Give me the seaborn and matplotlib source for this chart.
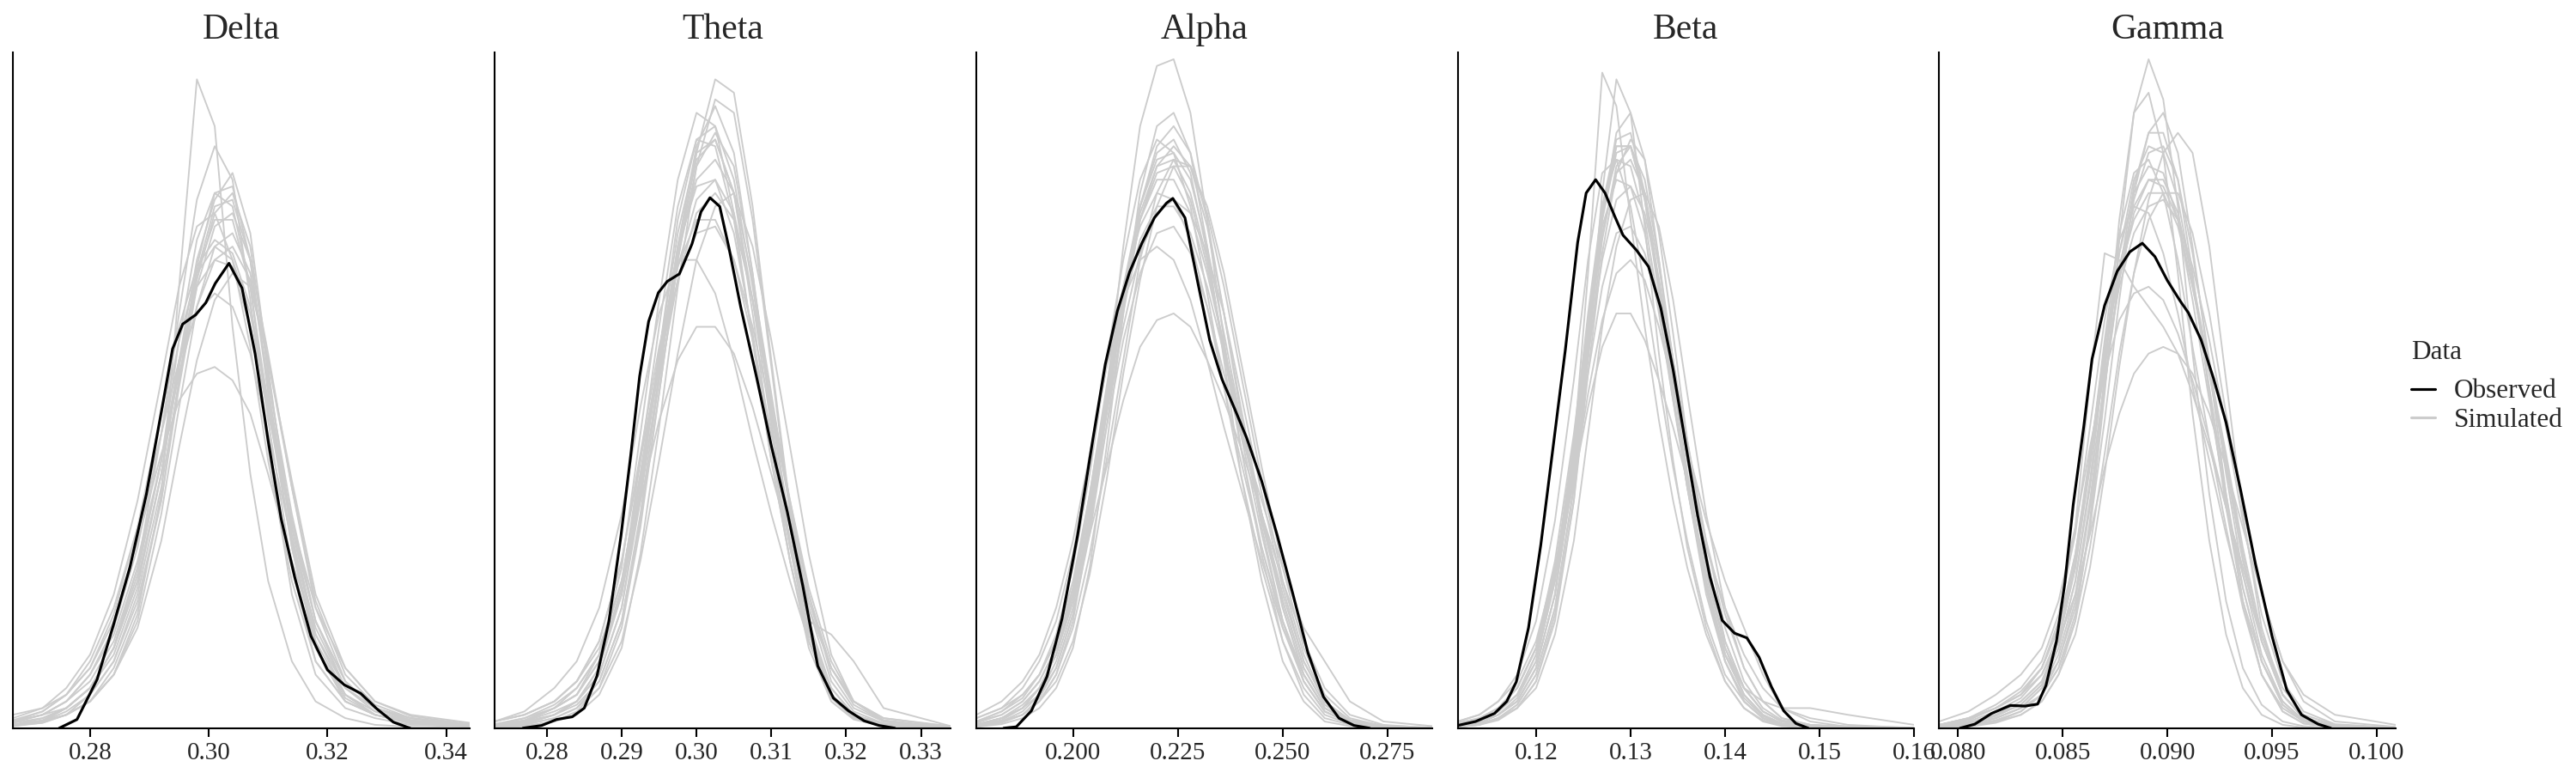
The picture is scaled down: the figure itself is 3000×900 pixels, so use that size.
import numpy as np
import pandas as pd
import matplotlib
matplotlib.use("Agg")
import matplotlib.pyplot as plt
import seaborn as sns
from matplotlib.lines import Line2D

#-- posterior predictive density overlay, one panel per band --#

bands = ["Delta", "Theta", "Alpha", "Beta", "Gamma"]

# Delta
delta_obs_x = [0.2748, 0.2778, 0.2812, 0.2839, 0.2867, 0.2895, 0.2923, 0.2939, 0.2956, 0.2978,
               0.2995, 0.3011, 0.3034, 0.3056, 0.3078, 0.3100, 0.3122, 0.3145, 0.3172, 0.3200,
               0.3228, 0.3256, 0.3283, 0.3311, 0.3339]
delta_obs_y = [0, 1.3, 7.3, 15.3, 24, 35, 48.7, 56.7, 60.4, 61.8,
               63.6, 66.5, 69.5, 65.8, 56, 43, 31.3, 22.5, 13.8, 8.7,
               6.5, 5.2, 2.9, 0.9, 0]
delta_sim_x = [0.267, 0.272, 0.276, 0.280, 0.284, 0.288, 0.292, 0.295, 0.298, 0.301,
               0.304, 0.307, 0.310, 0.314, 0.318, 0.323, 0.328, 0.334, 0.344]
delta_sims = [
    [0.5, 1, 2, 4, 8, 17, 35, 66, 97, 90, 60, 38, 22, 10, 4, 1.5, 0.5, 0.2, 0],
    [0.5, 1, 3, 6, 12, 24, 44, 62, 79, 87, 82, 64, 42, 20, 8, 3, 1.5, 0.5, 0.2],
    [1, 2, 3, 6, 11, 21, 38, 55, 70, 79, 83, 74, 54, 28, 12, 4, 2, 1, 0.5],
    [1.5, 3, 6, 11, 20, 34, 52, 66, 75, 77, 70, 57, 40, 22, 10, 4, 2, 1, 0.3],
    [2, 3, 5, 9, 16, 28, 41, 49, 53, 54, 52, 47, 38, 25, 14, 6, 3, 1.5, 0.5],
    [0.5, 1, 2, 4, 8, 16, 32, 48, 63, 72, 74, 68, 52, 32, 16, 6, 3, 1, 0.5],
    [1, 2, 4, 7, 13, 24, 40, 55, 66, 70, 69, 60, 47, 31, 18, 9, 4, 2, 0.8],
    [1, 2.5, 5, 10, 18, 30, 44, 55, 62, 65, 63, 56, 44, 28, 15, 6, 2.5, 1, 0.3],
    [0.5, 1.5, 3, 6, 12, 23, 40, 58, 73, 80, 78, 66, 46, 24, 10, 4, 2, 0.8, 0.3],
    [0.3, 0.8, 2, 4, 8, 15, 28, 42, 55, 64, 68, 66, 55, 36, 18, 7, 3, 1.5, 0.5],
    [0.8, 1.5, 3, 6, 12, 22, 38, 54, 68, 76, 76, 66, 48, 27, 12, 5, 2, 0.8, 0.3],
    [0.3, 1, 2.5, 5, 10, 20, 36, 52, 67, 77, 80, 72, 53, 30, 14, 5, 2, 1, 0.3],
    [1, 2, 4, 8, 15, 27, 44, 58, 68, 72, 70, 62, 48, 30, 16, 7, 3, 1.2, 0.4],
    [0.5, 1, 2, 5, 10, 19, 34, 51, 66, 75, 77, 70, 56, 36, 19, 8, 3.5, 1.5, 0.5],
    [1.2, 2.5, 5, 9, 17, 30, 47, 60, 69, 73, 71, 63, 49, 31, 16, 7, 3, 1.2, 0.4],
    [0.4, 0.8, 2, 4, 9, 18, 34, 52, 69, 80, 81, 70, 50, 27, 12, 4.5, 2, 0.7, 0.2],
    [0.8, 2, 4, 8, 14, 25, 40, 53, 63, 70, 72, 67, 55, 37, 20, 9, 4, 1.8, 0.6],
    [0.5, 1.2, 3, 6, 12, 22, 38, 54, 68, 78, 79, 70, 51, 29, 13, 5, 2.5, 1, 0.3],
]

# Theta
theta_obs_x = [0.2768, 0.2793, 0.2813, 0.2834, 0.2850, 0.2867, 0.2883, 0.2899, 0.2912, 0.2924,
               0.2936, 0.2949, 0.2961, 0.2977, 0.2994, 0.3006, 0.3018, 0.3031, 0.3043, 0.3059,
               0.3080, 0.3100, 0.3121, 0.3142, 0.3162, 0.3183, 0.3203, 0.3224, 0.3244, 0.3265]
theta_obs_y = [0, 0.4, 1.3, 1.7, 3, 7.8, 16, 28.7, 40.7, 52.6,
               60.8, 65.1, 66.8, 67.9, 72.4, 77.2, 79.3, 78, 72, 63,
               52.6, 42.2, 32.5, 21.3, 9.3, 4.5, 2.6, 1.1, 0.4, 0]
theta_sim_x = [0.2730, 0.2770, 0.2810, 0.2840, 0.2870, 0.2900, 0.2925, 0.2950, 0.2975, 0.3000,
               0.3025, 0.3050, 0.3075, 0.3100, 0.3125, 0.3150, 0.3180, 0.3210, 0.3250, 0.3340]
theta_sims = [
    [0, 0.3, 1, 2.5, 6, 15, 30, 50, 70, 86, 97, 95, 78, 55, 33, 16, 5, 1.5, 0.3, 0],
    [0.3, 1, 3, 5, 11, 24, 44, 64, 82, 92, 90, 77, 58, 40, 25, 13, 5, 2, 0.5, 0],
    [0.5, 1, 3, 6, 11, 22, 38, 56, 74, 86, 88, 80, 64, 45, 28, 14, 5, 2, 0.7, 0],
    [1, 2, 4, 7, 12, 22, 34, 46, 55, 60, 60, 56, 48, 38, 28, 18, 9, 4, 1.5, 0.2],
    [0, 0.3, 1, 2, 5, 12, 26, 45, 66, 84, 94, 92, 76, 54, 32, 15, 5, 1.5, 0.4, 0],
    [1, 2, 4, 7, 13, 25, 40, 55, 67, 74, 75, 70, 60, 47, 34, 21, 10, 4, 1.5, 0.3],
    [0.3, 1, 2, 4, 9, 20, 36, 55, 72, 81, 82, 74, 59, 42, 27, 16, 14, 10, 3, 0.3],
    [1, 2.5, 6, 10, 18, 32, 48, 62, 70, 70, 65, 55, 43, 32, 22, 13, 6, 2, 0.6, 0],
    [0.2, 0.6, 2, 4, 8, 18, 35, 56, 76, 88, 90, 82, 66, 47, 30, 16, 6, 2, 0.5, 0],
    [0.2, 0.5, 1.5, 3, 6, 13, 25, 40, 56, 70, 78, 80, 72, 58, 42, 26, 11, 4, 1, 0.1],
    [0.3, 1, 2.5, 4, 9, 21, 40, 60, 78, 88, 87, 76, 58, 40, 25, 13, 5, 2, 0.5, 0],
    [0.5, 1.5, 3.5, 6, 11, 22, 38, 55, 71, 82, 85, 80, 67, 50, 33, 18, 7, 2.5, 0.7, 0],
    [0.2, 0.6, 2, 3.5, 7, 16, 31, 50, 70, 84, 89, 84, 68, 48, 30, 15, 5, 1.7, 0.4, 0],
    [0.6, 1.5, 3, 5, 10, 20, 35, 52, 67, 77, 80, 76, 64, 49, 34, 20, 8, 3, 1, 0],
    [0.3, 0.8, 2, 4, 8, 18, 34, 53, 72, 85, 88, 80, 62, 42, 25, 12, 4, 1.3, 0.3, 0],
    [1, 2, 4, 7, 13, 25, 41, 57, 69, 76, 76, 70, 58, 44, 31, 19, 9, 3.5, 1, 0.1],
    [0.2, 0.5, 1.5, 3, 7, 16, 32, 52, 72, 87, 93, 86, 68, 46, 27, 13, 4.5, 1.5, 0.3, 0],
    [0.5, 1.2, 3, 5, 10, 21, 37, 54, 69, 79, 82, 77, 64, 48, 33, 20, 9, 4, 1.2, 0.1],
]

# Alpha
alpha_obs_x = [0.1835, 0.1865, 0.1901, 0.1938, 0.1974, 0.2011, 0.2048, 0.2077, 0.2106, 0.2135,
               0.2165, 0.2194, 0.2223, 0.2238, 0.2267, 0.2297, 0.2326, 0.2355, 0.2385, 0.2414,
               0.2450, 0.2487, 0.2524, 0.2560, 0.2597, 0.2634, 0.2670, 0.2707]
alpha_obs_y = [0, 0.2, 2.6, 7.7, 16.4, 28.8, 43.4, 54.4, 62.4, 68.2,
               72.6, 76.3, 78.5, 79.2, 76.3, 66.8, 58, 52.2, 47.8, 43.4,
               36.9, 28.8, 20.1, 11.3, 4.7, 1.5, 0.4, 0]
alpha_sim_x = [0.1770, 0.1830, 0.1880, 0.1920, 0.1960, 0.2000, 0.2040, 0.2080, 0.2120, 0.2160,
               0.2200, 0.2240, 0.2280, 0.2320, 0.2360, 0.2400, 0.2450, 0.2500, 0.2550, 0.2600,
               0.2660, 0.2740, 0.2857]
alpha_sims = [
    [0.3, 1, 2, 4, 8, 16, 30, 50, 72, 90, 99, 100, 92, 76, 58, 42, 26, 13, 5, 1.5, 0.5, 0.1, 0],
    [0.5, 1.5, 3, 6, 11, 19, 32, 48, 64, 78, 87, 90, 86, 76, 62, 47, 30, 16, 7, 2.5, 0.8, 0.2, 0],
    [1, 2.5, 5, 8, 14, 24, 38, 55, 70, 82, 88, 86, 78, 65, 51, 38, 24, 13, 6, 2, 0.6, 0.1, 0],
    [1.5, 3, 5, 8, 13, 20, 29, 39, 49, 57, 61, 62, 60, 55, 49, 42, 32, 22, 13, 6, 2, 0.5, 0],
    [0.3, 1, 2, 4, 8, 15, 26, 40, 55, 70, 80, 85, 84, 77, 66, 53, 37, 22, 11, 4, 1, 0.3, 0],
    [1.5, 3, 6, 10, 16, 26, 40, 54, 66, 75, 80, 79, 73, 63, 51, 40, 27, 16, 8, 3, 1, 0.2, 0],
    [0.2, 0.6, 1.5, 3, 6, 12, 24, 42, 62, 80, 90, 92, 86, 72, 55, 38, 22, 10, 4, 1, 0.3, 0, 0],
    [0.5, 1.5, 3, 6, 11, 19, 31, 45, 58, 68, 74, 75, 71, 63, 53, 44, 34, 24, 15, 10, 4, 1, 0.3],
    [0.2, 0.8, 2, 4, 7, 13, 23, 37, 53, 67, 78, 84, 84, 78, 68, 55, 39, 24, 12, 5, 1.5, 0.3, 0],
    [2, 4, 7, 11, 18, 28, 41, 54, 64, 70, 72, 70, 64, 55, 45, 36, 25, 15, 8, 3, 1, 0.2, 0],
    [0.5, 1.5, 3, 6, 11, 20, 34, 50, 65, 77, 84, 85, 80, 70, 57, 44, 29, 16, 7, 2.5, 0.8, 0.2, 0],
    [0.8, 2, 4, 7, 12, 21, 35, 51, 66, 78, 85, 86, 82, 72, 59, 46, 31, 18, 8, 3, 1, 0.2, 0],
    [0.3, 1, 2.5, 5, 9, 17, 29, 45, 62, 76, 84, 87, 84, 75, 62, 48, 32, 18, 8, 3, 0.8, 0.2, 0],
    [1, 2.5, 4.5, 8, 13, 22, 35, 50, 63, 73, 78, 78, 74, 66, 56, 45, 32, 20, 10, 4, 1.2, 0.3, 0],
    [0.5, 1.2, 3, 5, 10, 18, 31, 47, 63, 76, 83, 84, 79, 69, 57, 45, 31, 19, 9, 3.5, 1, 0.3, 0],
    [0.3, 1, 2, 4.5, 9, 17, 30, 47, 64, 78, 86, 88, 83, 71, 56, 42, 27, 15, 7, 2.5, 0.7, 0.1, 0],
    [1, 2, 4, 7, 12, 21, 33, 47, 60, 71, 77, 79, 77, 71, 62, 50, 35, 21, 10, 4, 1.2, 0.3, 0],
    [0.6, 1.5, 3.5, 6, 11, 20, 33, 49, 64, 76, 82, 82, 77, 68, 57, 46, 32, 19, 9, 3.5, 1.2, 0.4, 0.1],
]

# Beta
beta_obs_x = [0.1117, 0.1136, 0.1156, 0.1169, 0.1179, 0.1192, 0.1205, 0.1218, 0.1231, 0.1244,
              0.1253, 0.1263, 0.1273, 0.1283, 0.1292, 0.1306, 0.1319, 0.1332, 0.1345, 0.1358,
              0.1371, 0.1384, 0.1397, 0.1410, 0.1423, 0.1436, 0.1449, 0.1462, 0.1475, 0.1488]
beta_obs_y = [0.4, 1, 2.2, 4, 6.9, 15, 27.4, 42, 56.6, 72.6,
              80, 82, 80, 76.6, 73.7, 71.5, 69, 62.8, 53.6, 42.7,
              31.8, 22.6, 16.1, 14.2, 13.5, 10.6, 6.2, 2.6, 0.7, 0]
beta_sim_x = [0.1117, 0.1140, 0.1160, 0.1180, 0.1200, 0.1220, 0.1240, 0.1255, 0.1270, 0.1285,
              0.1300, 0.1315, 0.1330, 0.1345, 0.1360, 0.1380, 0.1400, 0.1420, 0.1440, 0.1460,
              0.1490, 0.1530, 0.1600]
beta_sims = [
    [0.3, 0.8, 2, 4, 9, 20, 42, 68, 98, 93, 76, 60, 46, 34, 24, 14, 7, 3, 1.2, 0.4, 0.1, 0, 0],
    [0.2, 0.5, 1.5, 3, 7, 16, 34, 56, 80, 97, 92, 75, 56, 40, 27, 15, 7, 3, 1, 0.3, 0.1, 0, 0],
    [0.5, 1, 2.5, 5, 11, 23, 42, 60, 77, 87, 87, 79, 66, 52, 38, 22, 11, 5, 2, 0.6, 0.2, 0, 0],
    [1, 2, 4, 7, 13, 24, 37, 48, 57, 62, 62, 58, 52, 45, 37, 27, 18, 11, 6, 3, 1.5, 0.5, 0],
    [1, 2, 4, 8, 16, 31, 52, 70, 83, 85, 78, 66, 52, 39, 28, 16, 8, 4, 1.5, 0.5, 0.1, 0, 0],
    [0.2, 0.5, 1.2, 3, 6, 14, 28, 44, 60, 72, 79, 80, 75, 64, 50, 32, 18, 9, 4, 1.5, 0.5, 0.1, 0],
    [0.3, 0.8, 2, 4, 9, 20, 38, 58, 78, 88, 89, 80, 66, 50, 36, 21, 11, 6, 4, 3, 3, 2, 0.5],
    [0.8, 1.5, 3, 6, 12, 23, 38, 53, 66, 74, 75, 71, 63, 53, 42, 28, 17, 9, 4, 1.5, 0.5, 0.1, 0],
    [0.2, 0.6, 1.5, 3.5, 8, 18, 36, 56, 76, 89, 92, 85, 70, 53, 37, 21, 10, 4, 1.5, 0.5, 0.1, 0, 0],
    [0.5, 1.2, 3, 6, 12, 23, 37, 50, 61, 68, 70, 67, 60, 51, 42, 31, 22, 15, 8, 3, 1, 0.2, 0],
    [0.4, 1, 2.5, 5, 11, 23, 43, 62, 78, 85, 84, 76, 63, 49, 36, 21, 10, 4.5, 1.8, 0.6, 0.2, 0, 0],
    [0.3, 0.8, 2, 4, 9, 20, 39, 58, 76, 86, 87, 80, 67, 52, 38, 22, 11, 5, 2, 0.7, 0.2, 0, 0],
    [0.5, 1.2, 3, 6, 12, 25, 44, 61, 75, 82, 81, 74, 62, 49, 37, 23, 12, 6, 2.5, 1, 0.3, 0.1, 0],
    [0.2, 0.6, 1.5, 3.5, 8, 18, 36, 55, 73, 84, 87, 82, 70, 55, 40, 24, 12, 5, 2, 0.7, 0.2, 0.1, 0],
    [0.5, 1, 2.5, 5, 10, 22, 40, 58, 74, 83, 85, 80, 69, 55, 41, 25, 13, 6, 2.5, 1, 0.4, 0.2, 0],
    [0.3, 0.8, 2, 4.5, 10, 22, 41, 60, 77, 87, 87, 79, 65, 50, 36, 20, 10, 4, 1.5, 0.5, 0.2, 0, 0],
    [0.6, 1.5, 3, 6, 12, 24, 40, 56, 70, 79, 81, 77, 67, 55, 43, 28, 15, 7, 3, 1.2, 0.5, 0.3, 0.1],
    [0.2, 0.5, 1.5, 3, 7, 17, 34, 53, 71, 83, 88, 85, 74, 59, 43, 26, 13, 6, 2.5, 1, 0.3, 0.1, 0],
]

# Gamma
gamma_obs_x = [0.0801, 0.0808, 0.0816, 0.0825, 0.0832, 0.0838, 0.0842, 0.0847, 0.0851, 0.0855,
               0.0860, 0.0864, 0.0870, 0.0876, 0.0882, 0.0888, 0.0894, 0.0900, 0.0906, 0.0910,
               0.0916, 0.0922, 0.0928, 0.0935, 0.0942, 0.0950, 0.0957, 0.0964, 0.0972, 0.0978]
gamma_obs_y = [0, 0.6, 2.2, 3.4, 3.3, 3.6, 6.4, 13, 21.7, 33.4,
               45, 55.2, 63.2, 68.3, 71.2, 72.5, 70.5, 66.9, 63.9, 62.1,
               58.1, 52.3, 45.7, 35.5, 24.6, 13.7, 5.7, 2, 0.6, 0]
gamma_sim_x = [0.0791, 0.0805, 0.0818, 0.0830, 0.0840, 0.0848, 0.0856, 0.0863, 0.0870, 0.0877,
               0.0884, 0.0891, 0.0898, 0.0905, 0.0912, 0.0920, 0.0928, 0.0936, 0.0945, 0.0955,
               0.0965, 0.0980, 0.1009]
gamma_sims = [
    [0, 0.3, 1, 2.5, 5, 9, 17, 30, 50, 73, 92, 100, 94, 78, 56, 35, 19, 9, 3.5, 1, 0.3, 0, 0],
    [0.2, 0.5, 1.5, 3, 6, 10, 18, 30, 46, 64, 80, 89, 92, 86, 72, 54, 35, 19, 8, 2.5, 0.7, 0.1, 0],
    [0.1, 0.3, 1, 2, 4, 8, 14, 24, 38, 54, 68, 79, 86, 89, 86, 72, 52, 32, 15, 5, 1.5, 0.3, 0],
    [0.5, 1.5, 3, 5, 8, 13, 20, 29, 39, 47, 53, 56, 57, 56, 53, 47, 39, 30, 20, 10, 4, 1, 0.2],
    [0.5, 1.5, 3, 5, 9, 16, 30, 52, 71, 70, 66, 63, 60, 56, 50, 42, 33, 24, 14, 6, 2, 0.5, 0],
    [0.3, 0.8, 2, 4, 7, 13, 24, 40, 58, 74, 83, 85, 80, 70, 57, 43, 30, 18, 8, 3, 1, 0.2, 0],
    [0.5, 1.5, 3.5, 6, 10, 17, 29, 45, 61, 73, 78, 77, 71, 62, 51, 40, 29, 19, 10, 4, 1.2, 0.3, 0],
    [0.2, 0.6, 1.5, 3, 5, 9, 16, 27, 41, 56, 68, 76, 80, 80, 74, 62, 47, 33, 20, 10, 5, 2, 0.5],
    [0, 0.2, 0.8, 2, 4, 8, 16, 31, 53, 76, 92, 95, 86, 68, 47, 28, 14, 6, 2, 0.5, 0.1, 0, 0],
    [1, 2.5, 5, 8, 12, 19, 30, 42, 53, 61, 65, 66, 64, 59, 52, 43, 33, 23, 13, 5, 1.5, 0.3, 0],
    [0.3, 1, 2.5, 4.5, 8, 14, 25, 40, 57, 71, 80, 84, 83, 76, 64, 49, 34, 21, 10, 3.5, 1, 0.2, 0],
    [0.2, 0.6, 1.8, 3.5, 6.5, 12, 22, 37, 55, 71, 82, 87, 86, 79, 67, 51, 35, 21, 10, 3.5, 1, 0.2, 0],
    [0.4, 1.2, 3, 5, 9, 15, 26, 41, 56, 68, 76, 80, 80, 75, 66, 54, 41, 27, 14, 5, 1.5, 0.3, 0],
    [0.2, 0.5, 1.5, 3, 6, 11, 20, 34, 51, 67, 79, 86, 87, 82, 71, 55, 38, 23, 11, 4, 1.2, 0.3, 0],
    [0.3, 0.8, 2, 4, 7, 13, 24, 39, 55, 69, 78, 82, 81, 76, 66, 53, 39, 25, 13, 5, 1.5, 0.4, 0.1],
    [0.1, 0.4, 1.2, 2.5, 5, 10, 19, 33, 51, 68, 81, 89, 89, 82, 68, 50, 33, 19, 8, 2.5, 0.7, 0.1, 0],
    [0.5, 1.3, 3, 5.5, 9, 15, 26, 40, 54, 66, 74, 78, 79, 76, 69, 58, 45, 31, 17, 7, 2.5, 0.6, 0.1],
    [0.2, 0.7, 2, 3.5, 6.5, 12, 22, 36, 52, 67, 77, 82, 82, 77, 67, 54, 40, 26, 13, 5, 1.5, 0.3, 0],
]

x_limits = {"Delta": (0.2670, 0.3439), "Theta": (0.2730, 0.3340), "Alpha": (0.1769, 0.2857),
            "Beta": (0.1117, 0.1600), "Gamma": (0.0791, 0.1009)}
x_ticks = {"Delta": [0.28, 0.30, 0.32, 0.34],
           "Theta": [0.28, 0.29, 0.30, 0.31, 0.32, 0.33],
           "Alpha": [0.200, 0.225, 0.250, 0.275],
           "Beta": [0.12, 0.13, 0.14, 0.15, 0.16],
           "Gamma": [0.080, 0.085, 0.090, 0.095, 0.100]}
x_ticklabels = {"Delta": ["0.28", "0.30", "0.32", "0.34"],
                "Theta": ["0.28", "0.29", "0.30", "0.31", "0.32", "0.33"],
                "Alpha": ["0.200", "0.225", "0.250", "0.275"],
                "Beta": ["0.12", "0.13", "0.14", "0.15", "0.16"],
                "Gamma": ["0.080", "0.085", "0.090", "0.095", "0.100"]}

obs = {"Delta": (delta_obs_x, delta_obs_y), "Theta": (theta_obs_x, theta_obs_y),
       "Alpha": (alpha_obs_x, alpha_obs_y), "Beta": (beta_obs_x, beta_obs_y),
       "Gamma": (gamma_obs_x, gamma_obs_y)}
sims = {"Delta": (delta_sim_x, delta_sims), "Theta": (theta_sim_x, theta_sims),
        "Alpha": (alpha_sim_x, alpha_sims), "Beta": (beta_sim_x, beta_sims),
        "Gamma": (gamma_sim_x, gamma_sims)}

# long-form tables for seaborn
sim_rows = []
for b in bands:
    sx, curves = sims[b]
    for i, c in enumerate(curves):
        for xv, yv in zip(sx, c):
            sim_rows.append({"band": b, "draw": i, "x": xv, "y": yv})
sim_df = pd.DataFrame(sim_rows)

obs_rows = []
for b in bands:
    ox, oy = obs[b]
    for xv, yv in zip(ox, oy):
        obs_rows.append({"band": b, "x": xv, "y": yv})
obs_df = pd.DataFrame(obs_rows)

sns.set_theme(style="white")
plt.rcParams['font.family'] = ['Liberation Serif', 'DejaVu Serif']

GREY = "#cccccc"

fig, axes = plt.subplots(1, 5, figsize=(20, 6), dpi=150)
fig.subplots_adjust(left=0.005, right=0.93, bottom=0.058, top=0.932, wspace=0.055)

for ax, b in zip(axes, bands):
    sns.lineplot(data=sim_df[sim_df.band == b], x="x", y="y", units="draw", estimator=None,
                 color=GREY, lw=0.9, sort=False, ax=ax)
    sns.lineplot(data=obs_df[obs_df.band == b], x="x", y="y", estimator=None,
                 color="black", lw=1.5, sort=False, ax=ax)
    ax.set_xlim(*x_limits[b])
    ax.set_ylim(0, 101)
    ax.set_xticks(x_ticks[b])
    ax.set_xticklabels(x_ticklabels[b], fontsize=14)
    ax.set_yticks([])
    ax.set_xlabel("")
    ax.set_ylabel("")
    ax.set_title(b, fontsize=20, pad=8)
    for s in ["top", "right"]:
        ax.spines[s].set_visible(False)
    for s in ["left", "bottom"]:
        ax.spines[s].set_color("black")
        ax.spines[s].set_linewidth(1.0)
    ax.tick_params(axis="x", bottom=True, length=5, width=1.0, color="black", pad=3,
                   labelcolor="#262626")

handles = [Line2D([], [], color="black", lw=1.5), Line2D([], [], color=GREY, lw=1.5)]
leg = fig.legend(handles, ["Observed", "Simulated"], title="Data", loc="center left",
                 bbox_to_anchor=(0.936, 0.5), frameon=False, fontsize=15, title_fontsize=15,
                 handlelength=0.9, handletextpad=0.7, labelspacing=0.15, borderpad=0,
                 borderaxespad=0)
leg._legend_box.align = "left"
leg._legend_box.sep = 8  # gap under the "Data" title

fig.savefig("out.png", dpi=150, facecolor="white")
